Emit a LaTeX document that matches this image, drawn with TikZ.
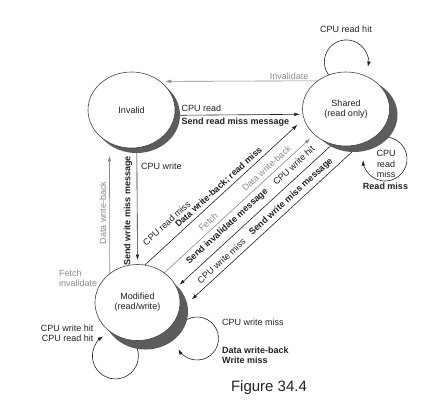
\documentclass[tikz,border=0pt]{standalone}
\usepackage{fontspec}
\setmainfont{Liberation Sans}
\usetikzlibrary{arrows.meta,shapes.geometric,shadows,backgrounds}
\definecolor{ink}{HTML}{222222}
\definecolor{lgray}{HTML}{8A8A8A}
\definecolor{shade}{HTML}{5C5C5C}
\begin{document}
\begin{tikzpicture}[x=1pt,y=-1pt,
  every node/.style={font=\fontsize{9}{10.3}\selectfont, text=ink, inner sep=0pt},
  state/.style={ellipse, draw=ink!85, line width=0.6pt, fill=white, outer sep=0pt, align=center},
  conn/.style={draw=ink, line width=0.6pt, -{Latex[length=5.5pt,width=3.6pt]}},
  gconn/.style={conn, draw=lgray},
  glabel/.style={text=lgray},
  blabel/.style={font=\fontsize{9}{10.3}\selectfont\bfseries},
  diag/.style={rotate=42.5}
]
\useasboundingbox (0,0) rectangle (438,408);

% states
\node[state, minimum width=87pt, minimum height=76pt,
  drop shadow={shadow xshift=5pt, shadow yshift=-5pt, fill=shade, opacity=1}] (inv) at (131.5,110) {Invalid};
\node[state, minimum width=87pt, minimum height=74pt,
  drop shadow={shadow xshift=8pt, shadow yshift=-6pt, fill=shade, opacity=1}] (sh) at (346,109) {Shared\\(read only)};
\node[state, minimum width=85pt, minimum height=76pt,
  drop shadow={shadow xshift=8pt, shadow yshift=-9pt, fill=shade, opacity=1}] (mod) at (137.5,302.5) {Modified\\(read/write)};

% connectors
\begin{scope}[on background layer]
  \draw[gconn, shorten >=5.4pt] (sh.135.45) -- (inv.45.9);
  \draw[conn, shorten >=3pt] (inv.353.4) -- (sh.187.96);
  \draw[conn, shorten >=4.5pt] (inv.278.3) -- (mod.90.8);
  \draw[gconn, shorten >=13.2pt] (mod.134.4) -- (inv.236.1);
  \draw[conn, shorten >=9pt] (mod.79.4) -- (sh.193.15);
  \draw[gconn, shorten >=6pt] (mod.48.1) -- (sh.219.5);
  \draw[conn, shorten >=4pt] (sh.249.1) -- (mod.21.35);
  \draw[conn, shorten >=17.5pt] (sh.293.93) -- (mod.348.8);
  % self loops
  \draw[conn] (sh.117.5) arc[start angle=216.7, end angle=-13.2, radius=22pt];
  \draw[conn] ([shift={(37.1,28.1)}]sh.center) arc[start angle=95, end angle=-177.4, radius=22pt];
  \draw[conn] (mod.262.9) arc[start angle=43.2, end angle=-238.2, radius=23pt];
  \draw[conn] ([shift={(40.88,25.25)}]mod.center) arc[start angle=150, end angle=-150, radius=21.5pt];
\end{scope}

% labels
\node[glabel, anchor=east] (linv) at (308.5,76.7) {Invalidate};
\node[anchor=west] (lcr) at (181.5,108.3) {CPU read};
\node[blabel, anchor=west] (lsrm) at (181.5,122) {Send read miss message};
\node[anchor=west] (lcw) at (141,166) {CPU write};
\node[blabel, rotate=90] (lswm) at (128,211) {Send write miss message};
\node[glabel, rotate=90] (ldwb) at (103,213) {Data write-back};
\node[glabel, anchor=west, align=left] (lfi) at (59,278) {Fetch\\invalidate};
\node[anchor=east, align=right] (lhits) at (93.5,333) {CPU write hit\\CPU read hit};
\node[anchor=west] (lcwm) at (222,322.7) {CPU write miss};
\node[blabel, anchor=west, align=left] (ldwm) at (222,355) {Data write-back\\Write miss};
\node (lrh) at (346,29) {CPU read hit};
\node[align=center] (lcrm) at (386,164) {CPU\\read\\miss};
\node[blabel] (lrm) at (385.5,186.7) {Read miss};

\node[diag] (da1) at (166.6,223.4) {CPU read miss};
\node[diag, blabel] (da2) at (218.9,187.4) {Data write-back; read miss};
\node[diag, glabel] (db1) at (208.2,221.9) {Fetch};
\node[diag, glabel] (db2) at (266.5,168.4) {Data write-back};
\node[diag, blabel] (dc1) at (227.2,226.5) {Send invalidate message};
\node[diag] (dc2) at (293.7,165.6) {CPU write hit};
\node[diag] (dd1) at (221.4,261.0) {CPU write miss};
\node[diag, blabel] (dd2) at (291.2,197.0) {Send write miss message};

\node[font=\fontsize{15}{18}\selectfont] (cap) at (269,388) {Figure 34.4};
\end{tikzpicture}
\end{document}
